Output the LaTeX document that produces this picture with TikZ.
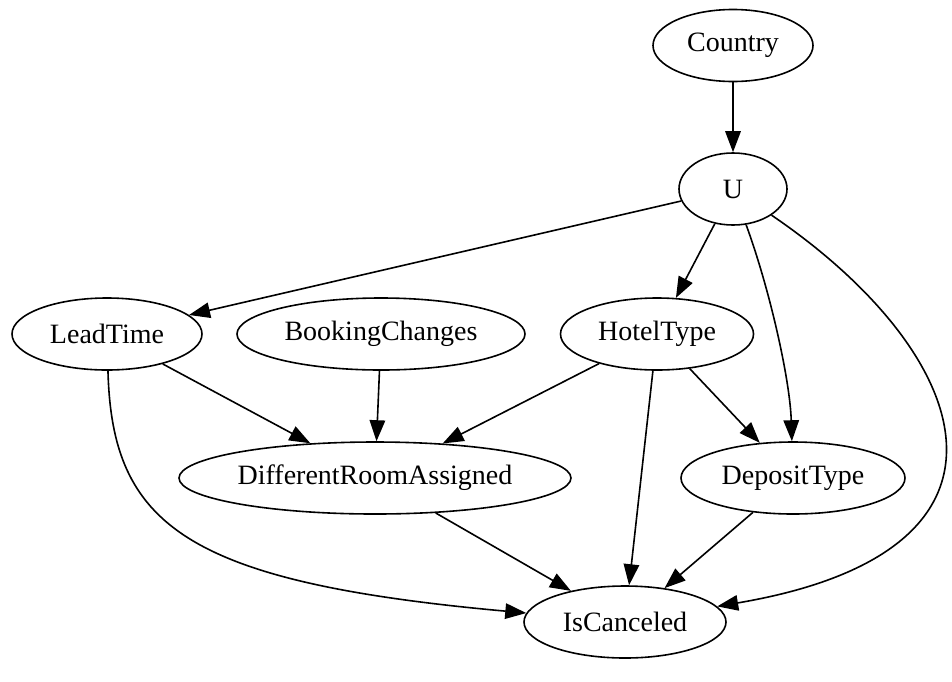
\documentclass[tikz,border=0pt]{standalone}
\usepackage{fontspec}
\setmainfont{Liberation Serif}
\usetikzlibrary{shapes.geometric,arrows.meta}
\begin{document}
\begin{tikzpicture}[x=1pt,y=-1pt,
  nd/.style={ellipse,draw,line width=1.6pt,inner sep=0pt,minimum height=72pt,
    font=\fontsize{28}{33}\selectfont},
  ar/.style={-{Triangle[length=21pt,width=15.5pt]},line width=1.6pt}]
\useasboundingbox (0,0) rectangle (952,681);
\node[nd,minimum width=160pt] (C)  at (733,45.5) {Country};
\node[nd,minimum width=108pt] (U)  at (733,189) {U};
\node[nd,minimum width=190pt] (LT) at (107,334) {LeadTime};
\node[nd,minimum width=288pt] (BC) at (381,334) {BookingChanges};
\node[nd,minimum width=193pt] (HT) at (657,334) {HotelType};
\node[nd,minimum width=392pt] (DR) at (375,478) {DifferentRoomAssigned};
\node[nd,minimum width=224pt] (DT) at (793,478) {DepositType};
\node[nd,minimum width=202pt] (IC) at (625,622) {IsCanceled};
\draw[ar] (C) -- (U);
\draw[ar] (U) -- (LT);
\draw[ar] (U) -- (HT);
\draw[ar] (U) .. controls (770,290) and (790,380) .. (DT);
\draw[ar] (U) .. controls (970,350) and (1050,550) .. (IC);
\draw[ar] (LT) -- (DR);
\draw[ar] (LT) .. controls (112,525) and (185,582) .. (IC);
\draw[ar] (BC) -- (DR);
\draw[ar] (HT) -- (DR);
\draw[ar] (HT) -- (DT);
\draw[ar] (HT) -- (IC);
\draw[ar] (DR) -- (IC);
\draw[ar] (DT) -- (IC);
\end{tikzpicture}
\end{document}
